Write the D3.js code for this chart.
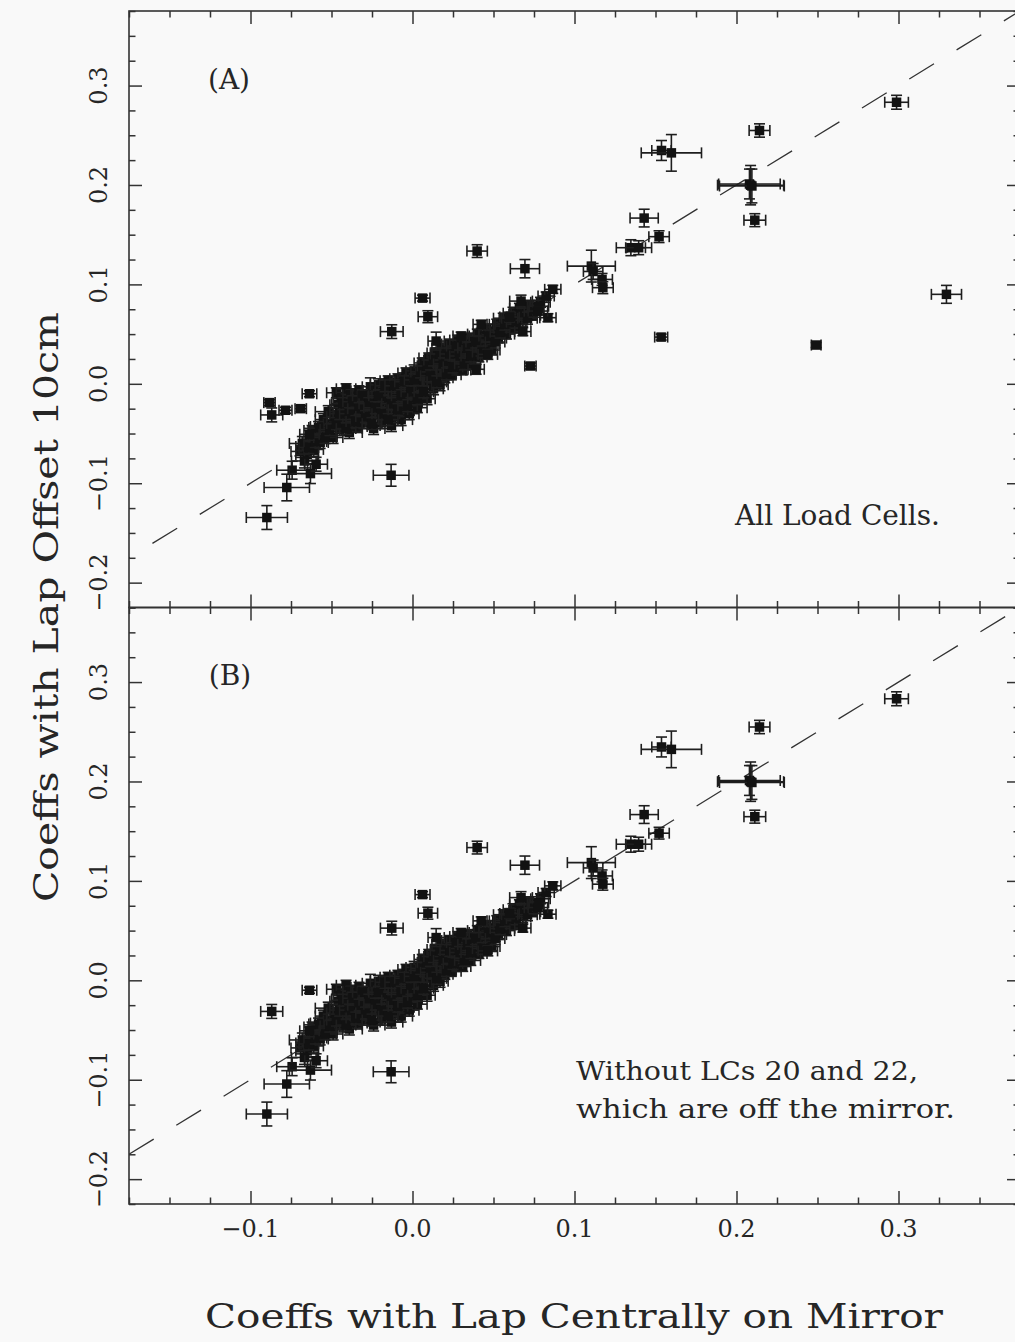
<!DOCTYPE html>
<html>
<head>
<meta charset="utf-8">
<script src="https://cdn.jsdelivr.net/npm/d3@7"></script>
<style>
body { margin: 0; background: #f9f9f9; }
</style>
</head>
<body>
<div id="plot"></div>
<script>
// tick values and labels
var xMajor = [-0.1, 0.0, 0.1, 0.2, 0.3];
var xLabels = ["\u22120.1", "0.0", "0.1", "0.2", "0.3"];
var yMajor = [-0.2, -0.1, 0.0, 0.1, 0.2, 0.3];
var yLabels = ["\u22120.2", "\u22120.1", "0.0", "0.1", "0.2", "0.3"];

// [x, y, xerr, yerr] -- dense group of coefficients along the diagonal
var blobPts = [
  [-0.069,-0.068,0.006,0.006],[-0.067,-0.063,0.005,0.005],[-0.065,-0.071,0.007,0.006],
  [-0.063,-0.058,0.005,0.005],[-0.061,-0.066,0.006,0.007],[-0.062,-0.047,0.005,0.005],
  [-0.059,-0.052,0.006,0.005],[-0.057,-0.059,0.005,0.006],[-0.056,-0.043,0.007,0.005],
  [-0.055,-0.036,0.005,0.006],[-0.053,-0.050,0.006,0.005],[-0.052,-0.028,0.008,0.006],
  [-0.050,-0.041,0.005,0.005],[-0.049,-0.054,0.006,0.006],
  [-0.048,-0.033,0.005,0.005],[-0.047,-0.009,0.006,0.005],[-0.046,-0.021,0.005,0.006],
  [-0.045,-0.046,0.007,0.006],[-0.044,-0.014,0.005,0.005],[-0.043,-0.029,0.006,0.005],
  [-0.042,-0.039,0.005,0.006],[-0.041,-0.005,0.006,0.005],[-0.040,-0.023,0.005,0.005],
  [-0.039,-0.049,0.008,0.006],[-0.038,-0.011,0.005,0.005],[-0.037,-0.034,0.006,0.006],
  [-0.036,-0.027,0.005,0.005],[-0.035,-0.017,0.005,0.006],[-0.034,-0.043,0.006,0.005],
  [-0.033,-0.007,0.005,0.005],[-0.032,-0.031,0.006,0.006],[-0.031,-0.021,0.005,0.005],
  [-0.030,-0.039,0.007,0.006],
  [-0.029,-0.012,0.005,0.005],[-0.028,-0.027,0.006,0.005],[-0.026,-0.003,0.005,0.009],
  [-0.026,-0.035,0.005,0.006],[-0.025,-0.019,0.006,0.005],[-0.024,-0.045,0.007,0.006],
  [-0.023,-0.013,0.005,0.005],[-0.022,-0.029,0.006,0.005],[-0.021,-0.001,0.005,0.006],
  [-0.020,-0.023,0.005,0.005],[-0.019,-0.039,0.006,0.006],[-0.018,-0.009,0.005,0.005],
  [-0.017,-0.031,0.006,0.005],[-0.016,-0.017,0.005,0.006],[-0.015,0.003,0.005,0.005],
  [-0.014,-0.025,0.006,0.005],[-0.013,-0.042,0.007,0.006],[-0.012,-0.007,0.005,0.005],
  [-0.011,-0.033,0.006,0.006],[-0.010,-0.015,0.005,0.005],
  [-0.009,0.005,0.005,0.005],[-0.008,-0.021,0.006,0.005],[-0.007,-0.036,0.007,0.006],
  [-0.006,-0.005,0.005,0.005],[-0.005,-0.027,0.006,0.006],[-0.004,0.011,0.005,0.005],
  [-0.003,-0.013,0.005,0.005],[-0.002,-0.030,0.006,0.006],[-0.001,0.001,0.005,0.005],
  [0.000,-0.019,0.006,0.005],[0.001,0.013,0.005,0.006],[0.002,-0.007,0.005,0.005],
  [0.003,-0.024,0.006,0.005],[0.004,0.005,0.005,0.005],[0.005,-0.013,0.006,0.006],
  [0.006,0.021,0.005,0.005],[0.007,-0.001,0.005,0.005],[0.008,0.011,0.006,0.005],
  [0.009,-0.015,0.005,0.006],[0.010,0.026,0.006,0.005],
  [0.011,0.003,0.005,0.005],[0.012,0.017,0.005,0.005],[0.013,-0.005,0.006,0.006],
  [0.014,0.031,0.005,0.005],[0.015,0.011,0.005,0.005],[0.016,0.023,0.006,0.005],
  [0.017,-0.001,0.005,0.006],[0.018,0.036,0.006,0.005],[0.019,0.015,0.005,0.005],
  [0.020,0.006,0.005,0.005],[0.021,0.028,0.006,0.006],[0.022,0.019,0.005,0.005],
  [0.023,0.040,0.005,0.005],[0.024,0.009,0.006,0.005],[0.025,0.025,0.005,0.006],
  [0.026,0.033,0.005,0.005],[0.027,0.014,0.006,0.005],[0.028,0.044,0.005,0.005],
  [0.029,0.022,0.005,0.006],[0.030,0.031,0.006,0.005],
  [0.031,0.014,0.005,0.005],[0.032,0.038,0.005,0.005],[0.033,0.025,0.006,0.006],
  [0.034,0.046,0.005,0.005],[0.035,0.030,0.005,0.005],[0.036,0.020,0.006,0.005],
  [0.037,0.042,0.005,0.006],[0.038,0.034,0.005,0.005],[0.040,0.050,0.006,0.005],
  [0.041,0.027,0.005,0.005],[0.042,0.040,0.005,0.006],[0.044,0.048,0.006,0.005],
  [0.045,0.036,0.005,0.005],[0.046,0.055,0.005,0.005],[0.048,0.044,0.006,0.006],
  [0.049,0.034,0.005,0.005],[0.050,0.052,0.005,0.005],
  [0.052,0.060,0.006,0.005],[0.053,0.046,0.005,0.005],[0.055,0.056,0.005,0.006],
  [0.056,0.066,0.006,0.005],[0.058,0.050,0.005,0.005],[0.060,0.061,0.005,0.005],
  [0.062,0.071,0.006,0.006],[0.063,0.056,0.005,0.005],[0.065,0.068,0.005,0.005],
  [0.066,0.076,0.006,0.005],[0.068,0.064,0.005,0.006],[0.070,0.072,0.005,0.005],
  [0.072,0.079,0.006,0.005],[0.074,0.069,0.005,0.005],[0.076,0.077,0.005,0.005],
  [0.079,0.082,0.006,0.005],
  [-0.068,-0.060,0.008,0.007],[-0.064,-0.064,0.006,0.006],[-0.060,-0.058,0.007,0.006],
  [-0.058,-0.044,0.006,0.006],[-0.054,-0.054,0.007,0.006],[-0.051,-0.046,0.006,0.006],
  [-0.047,-0.040,0.006,0.006],[-0.045,-0.030,0.006,0.006],[-0.043,-0.020,0.007,0.006],
  [-0.041,-0.045,0.006,0.006],[-0.039,-0.030,0.006,0.006],[-0.037,-0.018,0.006,0.006],
  [-0.035,-0.038,0.006,0.006],[-0.033,-0.025,0.007,0.006],[-0.031,-0.012,0.006,0.006],
  [-0.029,-0.033,0.006,0.006],[-0.027,-0.020,0.006,0.006],[-0.025,-0.040,0.006,0.006],
  [-0.023,-0.024,0.007,0.006],[-0.021,-0.012,0.006,0.006],[-0.019,-0.030,0.006,0.006],
  [-0.017,-0.002,0.006,0.006],[-0.015,-0.036,0.006,0.006],[-0.013,-0.020,0.006,0.006],
  [-0.011,-0.002,0.006,0.006],[-0.009,-0.026,0.006,0.006],[-0.007,-0.012,0.006,0.006],
  [-0.005,0.002,0.006,0.006],[-0.003,-0.022,0.006,0.006],[-0.001,-0.008,0.006,0.006],
  [0.001,0.004,0.006,0.006],[0.003,-0.015,0.006,0.006],[0.005,0.012,0.006,0.006],
  [0.007,-0.008,0.006,0.006],[0.009,0.018,0.006,0.006],[0.011,0.008,0.006,0.006],
  [0.013,0.024,0.006,0.006],[0.015,0.002,0.006,0.006],[0.017,0.030,0.006,0.006],
  [0.019,0.020,0.006,0.006],[0.021,0.010,0.006,0.006],[0.023,0.030,0.006,0.006],
  [0.025,0.017,0.006,0.006],[0.027,0.038,0.006,0.006],[0.029,0.028,0.006,0.006],
  [0.032,0.020,0.006,0.006],[0.034,0.036,0.006,0.006],[0.036,0.028,0.006,0.006],
  [0.039,0.042,0.006,0.006],[0.043,0.032,0.006,0.006],[0.047,0.048,0.006,0.006],
  [0.051,0.042,0.006,0.006],[0.054,0.052,0.006,0.006],[0.057,0.060,0.006,0.006],
  [0.061,0.066,0.006,0.006],[0.064,0.062,0.006,0.006],[0.067,0.070,0.006,0.006],
  [0.071,0.066,0.006,0.006],[0.075,0.073,0.006,0.006],[0.078,0.078,0.006,0.006]
];

// scattered coefficients, present in both panels
var sparsePts = [
  [0.2988,0.2832,0.0073,0.0070],[0.2142,0.2548,0.0064,0.0067],
  [0.1537,0.2347,0.0060,0.0100],[0.1598,0.2323,0.0186,0.0184],
  [0.2087,0.1998,0.0204,0.0198],[0.2080,0.2010,0.0190,0.0150],[0.2095,0.1990,0.0200,0.0170],
  [0.2113,0.1646,0.0067,0.0065],[0.1430,0.1667,0.0087,0.0089],[0.1522,0.1480,0.0063,0.0059],
  [0.1348,0.1369,0.0090,0.0080],[0.1396,0.1369,0.0080,0.0070],
  [0.1104,0.1184,0.0148,0.0160],[0.1115,0.1130,0.0060,0.0080],
  [0.1170,0.1050,0.0064,0.0060],[0.1175,0.0967,0.0064,0.0060],
  [0.0399,0.1335,0.0063,0.0064],[0.0694,0.1158,0.0090,0.0092],
  [0.0062,0.0862,0.0046,0.0030],[0.0095,0.0675,0.0060,0.0060],[-0.0128,0.0525,0.0070,0.0069],
  [-0.0636,-0.0100,0.0045,0.0030],[-0.0869,-0.0313,0.0068,0.0070],
  [-0.0132,-0.0920,0.0110,0.0110],[-0.0899,-0.1345,0.0127,0.0120],
  [-0.0776,-0.1043,0.0140,0.0134],[-0.0743,-0.0869,0.0095,0.0090],
  [-0.0630,-0.0903,0.0130,0.0100],[-0.0667,-0.0776,0.0080,0.0070],
  [-0.0595,-0.0809,0.0070,0.0070],[-0.0636,-0.0508,0.0060,0.0060],
  [0.0681,0.0525,0.0050,0.0040],[0.0836,0.0665,0.0050,0.0040],[0.0774,0.0732,0.0060,0.0040],
  [0.0599,0.0671,0.0060,0.0050],[0.0670,0.0832,0.0070,0.0060],[0.0825,0.0883,0.0050,0.0040],
  [0.0866,0.0950,0.0050,0.0040],[0.0424,0.0598,0.0050,0.0040],[0.0300,0.0480,0.0050,0.0040],
  [0.0465,0.0296,0.0060,0.0050],[0.0146,0.0430,0.0050,0.0090]
];

// LCs 20 and 22 (off the mirror) -- only in panel A
var offMirrorPts = [
  [-0.0883,-0.0189,0.0035,0.0030],[-0.0784,-0.0266,0.0040,0.0030],
  [-0.0690,-0.0250,0.0035,0.0030],[0.0393,0.0146,0.0050,0.0050],
  [0.0728,0.0179,0.0035,0.0030],[0.1535,0.0470,0.0040,0.0030],
  [0.2492,0.0390,0.0030,0.0025],[0.3296,0.0900,0.0093,0.0090]
];

var width = 1015;
var height = 1342;
var left = 129, right = 1020;
var topA = 11, midY = 607.5, bottomB = 1204;
var ink = "#262626";
var font = "'DejaVu Serif', serif";

var svg = d3.select("#plot").append("svg")
    .attr("width", width)
    .attr("height", height);

svg.append("rect").attr("width", width).attr("height", height).attr("fill", "#f9f9f9");

var x = d3.scaleLinear().domain([-0.175, 0.375]).range([left, right]);

var minorOf = function(lo, hi, majors){
    var out = [];
    for (var i = 0; lo + i * 0.025 <= hi + 1e-9; i++) {
        var v = +(lo + i * 0.025).toFixed(3);
        if (!majors.some(function(m){ return Math.abs(m - v) < 1e-6; })) out.push(v);
    }
    return out;
};
var xMinor = minorOf(-0.175, 0.375, xMajor);
var yMinor = minorOf(-0.225, 0.375, yMajor);

var drawPanel = function(top, bottom, pts, tag, dashOffset){
    var y = d3.scaleLinear().domain([-0.225, 0.375]).range([bottom, top]);
    var g = svg.append("g");

    svg.append("clipPath").attr("id", "clip" + tag)
        .append("rect").attr("x", left).attr("y", top)
        .attr("width", right - left).attr("height", bottom - top);

    // y = x reference
    g.append("line")
        .attr("x1", x(-0.175)).attr("y1", y(-0.175))
        .attr("x2", x(0.375)).attr("y2", y(0.375))
        .attr("stroke", "#333").attr("stroke-width", 1.3)
        .attr("stroke-dasharray", "29,26.5")
        .attr("stroke-dashoffset", dashOffset)
        .attr("clip-path", "url(#clip" + tag + ")");

    var cap = 5.5;
    var marks = g.selectAll(".pt").data(pts).enter().append("g")
        .attr("class", "pt")
        .attr("stroke", "#1e1e1e").attr("stroke-width", 1.6);
    marks.append("line")
        .attr("x1", function(d){ return x(d[0] - d[2]); })
        .attr("x2", function(d){ return x(d[0] + d[2]); })
        .attr("y1", function(d){ return y(d[1]); })
        .attr("y2", function(d){ return y(d[1]); });
    marks.append("line")
        .attr("x1", function(d){ return x(d[0]); })
        .attr("x2", function(d){ return x(d[0]); })
        .attr("y1", function(d){ return y(d[1] - d[3]); })
        .attr("y2", function(d){ return y(d[1] + d[3]); });
    [-1, 1].forEach(function(s){
        marks.append("line")
            .attr("x1", function(d){ return x(d[0] + s * d[2]); })
            .attr("x2", function(d){ return x(d[0] + s * d[2]); })
            .attr("y1", function(d){ return y(d[1]) - cap; })
            .attr("y2", function(d){ return y(d[1]) + cap; });
        marks.append("line")
            .attr("x1", function(d){ return x(d[0]) - cap; })
            .attr("x2", function(d){ return x(d[0]) + cap; })
            .attr("y1", function(d){ return y(d[1] + s * d[3]); })
            .attr("y2", function(d){ return y(d[1] + s * d[3]); });
    });
    marks.append("rect")
        .attr("x", function(d){ return x(d[0]) - 4.75; })
        .attr("y", function(d){ return y(d[1]) - 4.75; })
        .attr("width", 9.5).attr("height", 9.5)
        .attr("fill", "#121212").attr("stroke", "none");

    // inward ticks on all four sides
    var sides = [
        [d3.axisBottom(x), xMajor, xMinor, "translate(0," + bottom + ")"],
        [d3.axisTop(x), xMajor, xMinor, "translate(0," + top + ")"],
        [d3.axisLeft(y), yMajor, yMinor, "translate(" + left + ",0)"],
        [d3.axisRight(y), yMajor, yMinor, "translate(" + right + ",0)"]
    ];
    sides.forEach(function(s){
        [[s[1], 13], [s[2], 6.5]].forEach(function(t){
            var ax = s[0].tickValues(t[0]).tickSize(-t[1]).tickFormat("");
            g.append("g").attr("transform", s[3]).attr("color", "#333")
                .call(ax)
                .call(function(a){ a.select(".domain").remove(); })
                .selectAll("line").attr("stroke-width", 1.5);
        });
    });

    g.append("rect")
        .attr("x", left).attr("y", top)
        .attr("width", right - left).attr("height", bottom - top)
        .attr("fill", "none").attr("stroke", "#333").attr("stroke-width", 1.6);

    // rotated y tick labels
    g.selectAll(".ylab").data(yMajor).enter().append("text")
        .attr("class", "ylab")
        .attr("transform", function(d){ return "translate(107," + y(d) + ") rotate(-90)"; })
        .attr("text-anchor", "middle")
        .style("font-family", font).style("font-size", "24px").style("fill", ink)
        .text(function(d, i){ return yLabels[i]; });

    return y;
};

var yA = drawPanel(topA, midY, blobPts.concat(sparsePts, offMirrorPts), "A", 28);
var yB = drawPanel(midY, bottomB, blobPts.concat(sparsePts), "B", 0);

// x tick labels under panel B
svg.selectAll(".xlab").data(xMajor).enter().append("text")
    .attr("class", "xlab")
    .attr("x", function(d){ return x(d); })
    .attr("y", 1237)
    .attr("text-anchor", "middle")
    .style("font-family", font).style("font-size", "24px").style("fill", ink)
    .text(function(d, i){ return xLabels[i]; });

var addText = function(str, px, py, size, len, anchor){
    var t = svg.append("text").attr("x", px).attr("y", py)
        .attr("text-anchor", anchor || "start")
        .style("font-family", font).style("font-size", size + "px").style("fill", ink)
        .text(str);
    if (len) t.attr("textLength", len).attr("lengthAdjust", "spacingAndGlyphs");
    return t;
};

addText("(A)", 229, 89, 28, null, "middle");
addText("(B)", 230, 685, 28, null, "middle");
addText("All Load Cells.", 735, 525, 27, 205);
addText("Without LCs 20 and 22,", 576, 1080, 26, 342);
addText("which are off the mirror.", 576, 1118, 26, 379);

// axis titles
addText("Coeffs with Lap Centrally on Mirror", 205, 1328, 34, 738);
svg.append("text")
    .attr("transform", "translate(58,607) rotate(-90)")
    .attr("text-anchor", "middle")
    .attr("textLength", 590).attr("lengthAdjust", "spacingAndGlyphs")
    .style("font-family", font).style("font-size", "34px").style("fill", ink)
    .text("Coeffs with Lap Offset 10cm");
</script>
</body>
</html>
